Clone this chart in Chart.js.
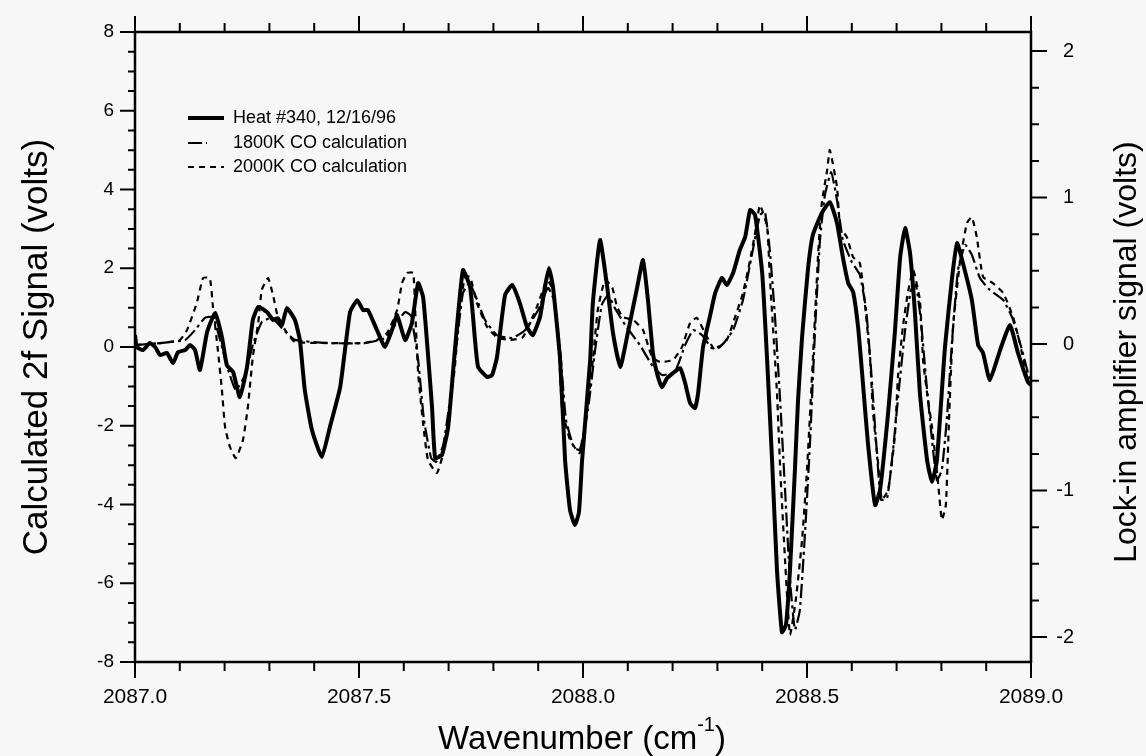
<!DOCTYPE html>
<html>
<head>
<meta charset="utf-8">
<script src="https://cdn.jsdelivr.net/npm/chart.js@4.4.0/dist/chart.umd.min.js"></script>
<style>
  html, body { margin: 0; padding: 0; background: #f7f7f7; }
  #wrap { width: 1146px; height: 756px; }
</style>
</head>
<body>
<div id="wrap"><canvas id="spectrum" width="1146" height="756"></canvas></div>
<script>
// Heat #340 measured lock-in signal (right axis, volts)
const heatWave = [
  2087.000, 2087.004, 2087.018, 2087.033, 2087.045, 2087.056, 2087.071, 2087.085, 2087.096, 2087.112,
  2087.123, 2087.134, 2087.145, 2087.161, 2087.179, 2087.194, 2087.205, 2087.219, 2087.234, 2087.250,
  2087.263, 2087.275, 2087.295, 2087.308, 2087.319, 2087.328, 2087.339, 2087.357, 2087.368, 2087.379,
  2087.395, 2087.417, 2087.435, 2087.458, 2087.480, 2087.496, 2087.509, 2087.520, 2087.540, 2087.558,
  2087.576, 2087.585, 2087.603, 2087.618, 2087.632, 2087.643, 2087.652, 2087.663, 2087.670, 2087.685,
  2087.699, 2087.714, 2087.732, 2087.748, 2087.759, 2087.766, 2087.786, 2087.797, 2087.808, 2087.826,
  2087.842, 2087.859, 2087.875, 2087.888, 2087.904, 2087.915, 2087.924, 2087.933, 2087.949, 2087.960,
  2087.971, 2087.982, 2087.991, 2087.998, 2088.016, 2088.022, 2088.038, 2088.054, 2088.067, 2088.083,
  2088.100, 2088.121, 2088.134, 2088.145, 2088.156, 2088.165, 2088.176, 2088.188, 2088.201, 2088.217,
  2088.228, 2088.239, 2088.250, 2088.257, 2088.268, 2088.283, 2088.295, 2088.310, 2088.321, 2088.335,
  2088.350, 2088.362, 2088.373, 2088.384, 2088.400, 2088.411, 2088.422, 2088.433, 2088.444, 2088.453,
  2088.462, 2088.473, 2088.480, 2088.489, 2088.502, 2088.513, 2088.533, 2088.551, 2088.567, 2088.580,
  2088.592, 2088.603, 2088.614, 2088.623, 2088.636, 2088.652, 2088.663, 2088.681, 2088.696, 2088.708,
  2088.719, 2088.730, 2088.741, 2088.752, 2088.768, 2088.779, 2088.790, 2088.808, 2088.824, 2088.835,
  2088.848, 2088.868, 2088.882, 2088.893, 2088.908, 2088.931, 2088.953, 2088.971, 2088.993, 2089.000
];
const heatSignal = [
  0.061, -0.020, -0.041, 0.007, -0.020, -0.075, -0.061, -0.130, -0.055, -0.041,
  -0.007, -0.041, -0.177, 0.082, 0.212, 0.048, -0.143, -0.191, -0.362, -0.157,
  0.164, 0.253, 0.218, 0.164, 0.177, 0.130, 0.246, 0.164, 0.027, -0.314,
  -0.587, -0.771, -0.567, -0.294, 0.218, 0.300, 0.232, 0.232, 0.096, -0.020,
  0.116, 0.198, 0.027, 0.143, 0.416, 0.321, 0.007, -0.430, -0.778, -0.758,
  -0.567, -0.041, 0.505, 0.389, 0.027, -0.157, -0.225, -0.212, -0.089, 0.334,
  0.403, 0.280, 0.116, 0.061, 0.184, 0.389, 0.519, 0.389, -0.109, -0.792,
  -1.133, -1.235, -1.147, -0.792, -0.109, 0.280, 0.710, 0.389, 0.075, -0.157,
  0.075, 0.389, 0.573, 0.300, -0.061, -0.198, -0.294, -0.232, -0.198, -0.164,
  -0.266, -0.403, -0.437, -0.334, -0.020, 0.184, 0.348, 0.451, 0.403, 0.485,
  0.642, 0.730, 0.915, 0.881, 0.485, -0.109, -0.792, -1.543, -1.966, -1.918,
  -1.543, -0.860, -0.382, 0.048, 0.505, 0.744, 0.894, 0.969, 0.826, 0.594,
  0.416, 0.355, 0.116, -0.198, -0.676, -1.099, -0.997, -0.471, 0.075, 0.594,
  0.792, 0.621, 0.212, -0.334, -0.792, -0.942, -0.792, -0.020, 0.457, 0.689,
  0.553, 0.300, -0.007, -0.061, -0.246, -0.041, 0.130, -0.061, -0.259, -0.280
];

// 1800K CO calculation (left axis, volts)
const calc1800Wave = [
  2087.000, 2087.056, 2087.112, 2087.134, 2087.156, 2087.174, 2087.190, 2087.208, 2087.225, 2087.246,
  2087.263, 2087.283, 2087.306, 2087.328, 2087.357, 2087.435, 2087.513, 2087.558, 2087.585, 2087.603,
  2087.616, 2087.632, 2087.645, 2087.661, 2087.672, 2087.688, 2087.703, 2087.719, 2087.732, 2087.746,
  2087.761, 2087.781, 2087.808, 2087.842, 2087.871, 2087.900, 2087.922, 2087.935, 2087.949, 2087.962,
  2087.980, 2087.993, 2088.011, 2088.027, 2088.042, 2088.056, 2088.071, 2088.094, 2088.127, 2088.154,
  2088.176, 2088.205, 2088.228, 2088.246, 2088.266, 2088.288, 2088.310, 2088.335, 2088.357, 2088.377,
  2088.395, 2088.406, 2088.417, 2088.429, 2088.440, 2088.451, 2088.462, 2088.473, 2088.484, 2088.496,
  2088.507, 2088.518, 2088.529, 2088.540, 2088.554, 2088.567, 2088.580, 2088.600, 2088.618, 2088.632,
  2088.643, 2088.654, 2088.665, 2088.679, 2088.692, 2088.705, 2088.719, 2088.732, 2088.743, 2088.754,
  2088.766, 2088.779, 2088.790, 2088.801, 2088.812, 2088.824, 2088.837, 2088.853, 2088.868, 2088.886,
  2088.908, 2088.938, 2088.960, 2088.980, 2089.000
];
const calc1800Signal = [
  0.05, 0.10, 0.18, 0.43, 0.74, 0.76, 0.18, -0.58, -1.09, -0.71,
  0.05, 0.63, 0.74, 0.48, 0.18, 0.10, 0.10, 0.23, 0.63, 0.89,
  0.79, -0.33, -1.85, -2.82, -2.92, -2.49, -1.35, 0.18, 1.37, 1.62,
  1.27, 0.69, 0.30, 0.23, 0.43, 0.94, 1.50, 1.19, -0.08, -1.85,
  -2.56, -2.61, -1.60, -0.08, 1.07, 1.32, 0.99, 0.56, 0.05, -0.46,
  -0.71, -0.63, 0.05, 0.43, 0.30, -0.03, 0.05, 0.43, 1.19, 2.34,
  3.35, 3.43, 2.46, 0.69, -1.35, -3.63, -5.91, -7.18, -6.68, -4.64,
  -2.36, 0.43, 2.72, 3.86, 4.44, 3.73, 2.72, 2.16, 1.83, 0.94,
  -0.58, -2.36, -3.88, -3.83, -2.61, -1.09, 0.43, 1.45, 1.57, 0.69,
  -0.84, -2.36, -3.38, -3.12, -1.85, 0.18, 1.95, 2.59, 2.34, 1.75,
  1.45, 1.19, 0.69, -0.08, -0.96
];

// 2000K CO calculation (left axis, volts)
const calc2000Wave = [
  2087.000, 2087.056, 2087.100, 2087.116, 2087.138, 2087.152, 2087.167, 2087.174, 2087.185, 2087.194,
  2087.201, 2087.212, 2087.225, 2087.241, 2087.252, 2087.263, 2087.275, 2087.283, 2087.297, 2087.308,
  2087.319, 2087.339, 2087.357, 2087.435, 2087.509, 2087.540, 2087.563, 2087.585, 2087.596, 2087.607,
  2087.621, 2087.625, 2087.632, 2087.643, 2087.654, 2087.674, 2087.688, 2087.699, 2087.714, 2087.725,
  2087.737, 2087.748, 2087.763, 2087.786, 2087.808, 2087.837, 2087.866, 2087.897, 2087.920, 2087.933,
  2087.944, 2087.953, 2087.971, 2087.993, 2088.009, 2088.022, 2088.033, 2088.049, 2088.065, 2088.076,
  2088.089, 2088.112, 2088.134, 2088.154, 2088.172, 2088.201, 2088.221, 2088.239, 2088.254, 2088.277,
  2088.295, 2088.321, 2088.335, 2088.357, 2088.373, 2088.384, 2088.395, 2088.411, 2088.417, 2088.424,
  2088.433, 2088.440, 2088.451, 2088.462, 2088.475, 2088.489, 2088.500, 2088.513, 2088.525, 2088.533,
  2088.545, 2088.551, 2088.567, 2088.574, 2088.589, 2088.603, 2088.618, 2088.629, 2088.641, 2088.647,
  2088.658, 2088.667, 2088.681, 2088.696, 2088.703, 2088.714, 2088.725, 2088.737, 2088.752, 2088.759,
  2088.768, 2088.779, 2088.792, 2088.801, 2088.810, 2088.817, 2088.826, 2088.842, 2088.857, 2088.868,
  2088.879, 2088.893, 2088.915, 2088.938, 2088.960, 2088.975, 2088.993, 2089.000
];
const calc2000Signal = [
  0.05, 0.10, 0.18, 0.43, 1.12, 1.75, 1.75, 1.02, -0.08, -1.09,
  -2.03, -2.54, -2.82, -2.36, -1.52, -0.25, 0.61, 1.45, 1.75, 1.32,
  0.76, 0.36, 0.13, 0.10, 0.10, 0.18, 0.36, 0.94, 1.62, 1.88,
  1.88, 1.02, -0.66, -1.93, -2.87, -3.20, -2.69, -1.85, -0.51, 1.02,
  1.78, 1.78, 1.12, 0.51, 0.25, 0.18, 0.25, 1.02, 1.70, 1.45,
  0.51, -1.52, -2.36, -2.69, -1.60, -0.33, 0.94, 1.70, 1.52, 1.02,
  0.76, 0.69, 0.43, -0.25, -0.38, -0.33, 0.00, 0.61, 0.74, 0.25,
  -0.08, 0.18, 0.61, 1.37, 2.21, 2.89, 3.60, 3.05, 1.78, 0.51,
  -1.17, -3.05, -5.41, -7.31, -6.42, -4.90, -3.12, -0.33, 2.39, 3.65,
  4.49, 5.00, 4.06, 3.05, 2.79, 2.28, 2.13, 1.12, -0.33, -1.60,
  -2.87, -3.88, -3.63, -2.28, -0.76, 0.51, 1.37, 1.95, 1.19, -0.33,
  -1.17, -2.03, -3.38, -4.39, -4.01, -1.85, 0.51, 2.21, 3.15, 3.30,
  2.79, 1.78, 1.62, 1.37, 0.76, 0.10, -0.84, -0.96
];

// Axis ticks and labels
const xTicks = [2087.0, 2087.5, 2088.0, 2088.5, 2089.0];
const xTickLabels = ['2087.0', '2087.5', '2088.0', '2088.5', '2089.0'];
const leftTicks = [8, 6, 4, 2, 0, -2, -4, -6, -8];
const rightTicks = [2, 1, 0, -1, -2];
const seriesNames = ['Heat #340, 12/16/96', '1800K CO calculation', '2000K CO calculation'];

const FONT = '"Liberation Sans", Arial, Helvetica, sans-serif';
const toPoints = (xs, ys) => xs.map((x, i) => ({ x: x, y: ys[i] }));

// draws the boxed frame, outside ticks, labels, titles and legend
const frameAxes = {
    id: 'frameAxes',
    beforeDraw(chart) {
        const ctx = chart.ctx;
        ctx.save();
        ctx.fillStyle = '#f7f7f7';
        ctx.fillRect(0, 0, chart.width, chart.height);
        ctx.restore();
    },
    afterDatasetsDraw(chart) {
        const { ctx, chartArea: a, scales } = chart;
        const xs = scales.x, yl = scales.y, yr = scales.y2;
        ctx.save();
        ctx.strokeStyle = '#000';
        ctx.fillStyle = '#000';
        ctx.lineCap = 'butt';

        // frame
        ctx.lineWidth = 2.5;
        ctx.strokeRect(a.left, a.top, a.right - a.left, a.bottom - a.top);

        ctx.lineWidth = 2;
        ctx.beginPath();
        // x ticks every 0.1, long every 0.5, top and bottom
        for (let i = 0; i <= 20; i++) {
            const px = xs.getPixelForValue(2087 + i * 0.1);
            const len = i % 5 === 0 ? 16 : 9;
            ctx.moveTo(px, a.bottom); ctx.lineTo(px, a.bottom + len);
            ctx.moveTo(px, a.top); ctx.lineTo(px, a.top - len);
        }
        // left ticks every 0.5
        for (let k = -16; k <= 16; k++) {
            const py = yl.getPixelForValue(k * 0.5);
            const len = k % 4 === 0 ? 15 : 7;
            ctx.moveTo(a.left, py); ctx.lineTo(a.left - len, py);
        }
        // right ticks every 0.25
        for (let k = -8; k <= 8; k++) {
            const py = yr.getPixelForValue(k * 0.25);
            const len = k % 4 === 0 ? 16 : 8;
            ctx.moveTo(a.right, py); ctx.lineTo(a.right + len, py);
        }
        ctx.stroke();

        // tick labels
        ctx.textBaseline = 'middle';
        ctx.font = '21px ' + FONT;
        ctx.textAlign = 'center';
        xTicks.forEach((v, i) => ctx.fillText(xTickLabels[i], xs.getPixelForValue(v), 697));
        ctx.font = '19px ' + FONT;
        ctx.textAlign = 'right';
        leftTicks.forEach(v => ctx.fillText(String(v), a.left - 21, yl.getPixelForValue(v)));
        ctx.font = '20px ' + FONT;
        rightTicks.forEach(v => ctx.fillText(String(v), a.right + 43, yr.getPixelForValue(v)));

        // axis titles
        ctx.textAlign = 'center';
        ctx.font = '35px ' + FONT;
        ctx.save();
        ctx.translate(37, 347);
        ctx.rotate(-Math.PI / 2);
        ctx.fillText('Calculated 2f Signal (volts)', 0, 0);
        ctx.restore();
        ctx.font = '32px ' + FONT;
        ctx.save();
        ctx.translate(1127, 352);
        ctx.rotate(-Math.PI / 2);
        ctx.fillText('Lock-in amplifier signal (volts)', 0, 0);
        ctx.restore();

        // x title with superscript
        const main = 'Wavenumber (cm', sup = '-1', tail = ')';
        ctx.font = '33px ' + FONT;
        const wMain = ctx.measureText(main).width, wTail = ctx.measureText(tail).width;
        ctx.font = '20px ' + FONT;
        const wSup = ctx.measureText(sup).width;
        let tx = 582 - (wMain + wSup + wTail) / 2;
        ctx.textAlign = 'left';
        ctx.textBaseline = 'alphabetic';
        ctx.font = '33px ' + FONT;
        ctx.fillText(main, tx, 749);
        ctx.font = '20px ' + FONT;
        ctx.fillText(sup, tx + wMain, 731);
        ctx.font = '33px ' + FONT;
        ctx.fillText(tail, tx + wMain + wSup, 749);

        // legend
        const rows = [118, 143, 167];
        ctx.font = '18px ' + FONT;
        ctx.textBaseline = 'middle';
        chart.data.datasets.forEach((ds, i) => {
            ctx.beginPath();
            ctx.lineWidth = ds.borderWidth;
            ctx.setLineDash(ds.borderDash || []);
            const x2 = i === 1 ? 207 : 224;
            ctx.moveTo(188, rows[i]); ctx.lineTo(x2, rows[i]);
            ctx.stroke();
            ctx.setLineDash([]);
            ctx.fillText(seriesNames[i], 233, rows[i]);
        });
        ctx.restore();
    }
};

const ctx = document.getElementById('spectrum').getContext('2d');
const spectrumChart = new Chart(ctx, {
    type: 'line',
    data: {
        datasets: [
            {
                label: seriesNames[0],
                data: toPoints(heatWave, heatSignal),
                yAxisID: 'y2',
                borderColor: '#000',
                borderWidth: 4,
                borderJoinStyle: 'round'
            },
            {
                label: seriesNames[1],
                data: toPoints(calc1800Wave, calc1800Signal),
                yAxisID: 'y',
                borderColor: '#000',
                borderWidth: 2.2,
                borderDash: [14, 4, 3, 4]
            },
            {
                label: seriesNames[2],
                data: toPoints(calc2000Wave, calc2000Signal),
                yAxisID: 'y',
                borderColor: '#000',
                borderWidth: 2.2,
                borderDash: [6, 5]
            }
        ]
    },
    options: {
        responsive: false,
        animation: false,
        events: [],
        layout: { padding: { left: 135, right: 115, top: 32, bottom: 94 } },
        elements: { point: { radius: 0 }, line: { tension: 0.15 } },
        scales: {
            x: { type: 'linear', min: 2087, max: 2089, display: false },
            y: { type: 'linear', min: -8, max: 8, display: false },
            y2: { type: 'linear', min: -2.17, max: 2.13, display: false }
        },
        plugins: {
            legend: { display: false },
            tooltip: { enabled: false }
        }
    },
    plugins: [frameAxes]
});
</script>
</body>
</html>
